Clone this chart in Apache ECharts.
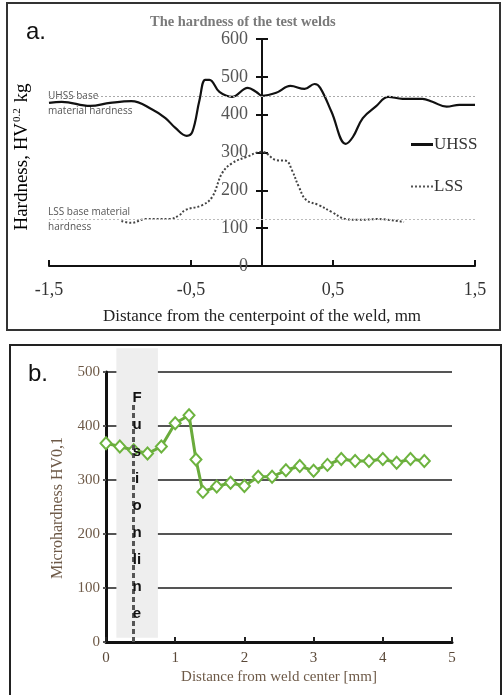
<!DOCTYPE html>
<html><head><meta charset="utf-8">
<script src="https://cdn.jsdelivr.net/npm/echarts@6/dist/echarts.min.js"></script>
<style>html,body{margin:0;padding:0;background:#fff}#c{width:503px;height:695px}</style>
</head><body><div id="c"></div>
<script>
// Panel a data: distance (mm), hardness
const uhssX = [-1.5,-1.41,-1.21,-1.07,-0.92,-0.77,-0.68,-0.61,-0.53,-0.49,-0.44,-0.40,-0.37,-0.30,-0.21,-0.10,-0.04,0,0.10,0.20,0.30,0.37,0.41,0.49,0.59,0.64,0.71,0.80,0.89,0.99,1.13,1.20,1.30,1.39,1.5];
const uhssY = [431,434,423,431,436,413,391,365,344,355,439,492,492,460,447,471,460,450,458,476,468,481,471,407,323,341,391,421,447,442,442,434,421,426,426];
const lssX = [-0.99,-0.92,-0.82,-0.65,-0.58,-0.54,-0.42,-0.35,-0.28,-0.21,-0.11,0,0.10,0.17,0.21,0.26,0.31,0.40,0.49,0.59,0.68,0.82,1.0];
const lssY = [119,114,124,124,135,148,161,183,246,272,288,302,280,278,254,209,175,161,143,124,122,124,116];
const uhssBase = 450;
const lssBase = 124;
// Panel b data
const bX = [0,0.2,0.4,0.6,0.8,1.0,1.2,1.3,1.4,1.6,1.8,2.0,2.2,2.4,2.6,2.8,3.0,3.2,3.4,3.6,3.8,4.0,4.2,4.4,4.6];
const bY = [368,362,355,349,362,405,420,338,278,288,295,289,306,306,318,326,317,328,339,335,335,339,332,339,335];
const fusionBand = [0.15, 0.75, 8, 544]; // x from, x to, y from, y to
const fusionLineX = 0.4;
const fusionLineTop = 440;

const zip = (a,b)=>a.map((v,i)=>[v,b[i]]);
const serif = '"Liberation Serif","DejaVu Serif",serif';
const comma = v => String(v).replace('.', ',');
const brown = '#6e5a48';
const aLeft = 49, aRight = 28, aWidth = 503 - aLeft - aRight;
const aZeroOffset = -aWidth * (0 - (-1.5)) / 3; // move y axis to x = 0

const chart = echarts.init(document.getElementById('c'));
chart.setOption({
  animation: false,
  title: {text: 'The hardness of the test welds', left: 145, top: 10,
    textStyle: {fontFamily: serif, fontSize: 14.5, fontWeight: 'bold', color: '#7a7a7a'}},
  legend: {orient: 'vertical', left: 406, top: 131, itemGap: 25, itemWidth: 22, itemHeight: 3,
    textStyle: {fontFamily: serif, fontSize: 17, color: '#333', padding: [0,0,0,-4]},
    data: [
      {name: 'UHSS', icon: 'rect', itemStyle: {color: '#111'}},
      {name: 'LSS', icon: 'path://M0,0h2v2h-2zM4,0h2v2h-2zM8,0h2v2h-2zM12,0h2v2h-2zM16,0h2v2h-2zM20,0h2v2h-2z', itemStyle: {color: '#555'}}
    ]},
  grid: [
    {left: aLeft, right: aRight, top: 39, bottom: 429},
    {left: 106, right: 51, top: 372, bottom: 53}
  ],
  xAxis: [
    {gridIndex: 0, type: 'value', min: -1.5, max: 1.5, interval: 1,
      axisLine: {onZero: false, lineStyle: {color: '#111', width: 2}},
      axisTick: {inside: true, length: 6, lineStyle: {color: '#111', width: 2}},
      axisLabel: {formatter: comma, fontFamily: serif, fontSize: 18, color: '#333', margin: 15},
      splitLine: {show: false},
      name: 'Distance from the centerpoint of the weld, mm', nameLocation: 'middle', nameGap: 42,
      nameTextStyle: {fontFamily: serif, fontSize: 17, color: '#222'}},
    {gridIndex: 1, type: 'value', min: 0, max: 5, interval: 1,
      axisLine: {lineStyle: {color: '#111', width: 3}},
      axisTick: {inside: true, length: 5, lineStyle: {color: '#222', width: 2}},
      axisLabel: {fontFamily: serif, fontSize: 15, color: '#5a4838', margin: 9},
      splitLine: {show: false},
      name: 'Distance from weld center [mm]', nameLocation: 'middle', nameGap: 28,
      nameTextStyle: {fontFamily: serif, fontSize: 15, color: brown}}
  ],
  yAxis: [
    {gridIndex: 0, type: 'value', min: 0, max: 600, interval: 100, position: 'left', offset: aZeroOffset,
      axisLine: {onZero: false, lineStyle: {color: '#111', width: 2}},
      axisTick: {length: 6, lineStyle: {color: '#111', width: 2}},
      axisLabel: {fontFamily: serif, fontSize: 18, color: '#555', margin: 14},
      splitLine: {show: false}},
    {gridIndex: 0, type: 'value', min: 0, max: 600, interval: 100, position: 'left', offset: aZeroOffset,
      axisLine: {onZero: false, lineStyle: {color: '#111', width: 2}},
      axisTick: {inside: true, length: 6, lineStyle: {color: '#111', width: 2}},
      axisLabel: {show: false}, splitLine: {show: false}},
    {gridIndex: 1, type: 'value', min: 0, max: 500, interval: 100,
      axisLine: {show: true, lineStyle: {color: '#111', width: 3}},
      axisTick: {show: true, length: 3, lineStyle: {color: '#555', width: 2}},
      axisLabel: {fontFamily: serif, fontSize: 15, color: brown, margin: 6},
      splitLine: {lineStyle: {color: '#555', width: 2}}}
  ],
  series: [
    {name: 'UHSS', type: 'line', xAxisIndex: 0, yAxisIndex: 0, data: zip(uhssX, uhssY),
      smooth: 0.4, symbol: 'none', lineStyle: {color: '#111', width: 2.2}, itemStyle: {color: '#111'},
      markLine: {silent: true, symbol: 'none', label: {show: false},
        lineStyle: {color: '#aaa', type: [2,2], width: 1}, data: [{yAxis: uhssBase}]}},
    {name: 'LSS', type: 'line', xAxisIndex: 0, yAxisIndex: 0, data: zip(lssX, lssY),
      smooth: 0.4, symbol: 'none', lineStyle: {color: '#444', width: 2, type: [2,2]}, itemStyle: {color: '#444'},
      markLine: {silent: true, symbol: 'none', label: {show: false},
        lineStyle: {color: '#bbb', type: [2,2], width: 1}, data: [{yAxis: lssBase}]}},
    {name: 'Fusion zone', type: 'custom', xAxisIndex: 1, yAxisIndex: 2, clip: false, silent: true, z: 1,
      data: [fusionBand],
      renderItem: (params, api) => {
        const p1 = api.coord([api.value(0), api.value(3)]);
        const p2 = api.coord([api.value(1), api.value(2)]);
        return {type: 'rect', shape: {x: p1[0], y: p1[1], width: p2[0]-p1[0], height: p2[1]-p1[1]},
          style: {fill: '#eeeeee'}};
      }},
    {name: 'Microhardness', type: 'line', xAxisIndex: 1, yAxisIndex: 2, data: zip(bX, bY), z: 3,
      symbol: 'diamond', symbolSize: [11,12], lineStyle: {color: '#6aab3c', width: 3},
      itemStyle: {color: '#fff', borderColor: '#6db33f', borderWidth: 2},
      markLine: {silent: true, symbol: 'none', label: {show: false},
        lineStyle: {color: '#555', type: [5,3], width: 3},
        data: [[{coord: [fusionLineX, 0]}, {coord: [fusionLineX, fusionLineTop]}]]}}
  ],
  graphic: [
    {type: 'rect', shape: {x: 7, y: 3, width: 493, height: 327}, style: {fill: 'none', stroke: '#333', lineWidth: 2}, silent: true},
    {type: 'rect', shape: {x: 10, y: 345, width: 491, height: 360}, style: {fill: 'none', stroke: '#222', lineWidth: 2}, silent: true},
    {type: 'text', left: 26, top: 20, style: {text: 'a.', font: '24px "Liberation Sans", sans-serif', fill: '#111'}},
    {type: 'text', left: 28, top: 362, style: {text: 'b.', font: '24px "Liberation Sans", sans-serif', fill: '#111'}},
    {type: 'text', x: 48, y: 89, style: {text: 'UHSS base\nmaterial hardness', font: '10px "Open Sans", sans-serif', fill: '#555', lineHeight: 15}},
    {type: 'text', x: 48, y: 205, style: {text: 'LSS base material\nhardness', font: '10px "Open Sans", sans-serif', fill: '#555', lineHeight: 15}},
    {type: 'text', x: 22, y: 157, rotation: Math.PI/2, style: {
      text: '{a|Hardness, HV}{s|0.2}{a| kg}', align: 'center', verticalAlign: 'middle',
      rich: {a: {fontFamily: serif, fontSize: 19, color: '#222'},
             s: {fontFamily: serif, fontSize: 11, color: '#222', padding: [0,1,9,1]}}}},
    {type: 'text', x: 58, y: 508, rotation: Math.PI/2, style: {
      text: 'Microhardness HV0,1', align: 'center', verticalAlign: 'middle',
      font: '16px "Liberation Serif", serif', fill: brown}},
    {type: 'text', x: 137, y: 384, z: 100, style: {
      text: 'F\nu\ns\ni\no\nn\nli\nn\ne', align: 'center',
      font: 'bold 15px "Liberation Sans", sans-serif', fill: '#111', lineHeight: 27}}
  ]
});
</script></body></html>
